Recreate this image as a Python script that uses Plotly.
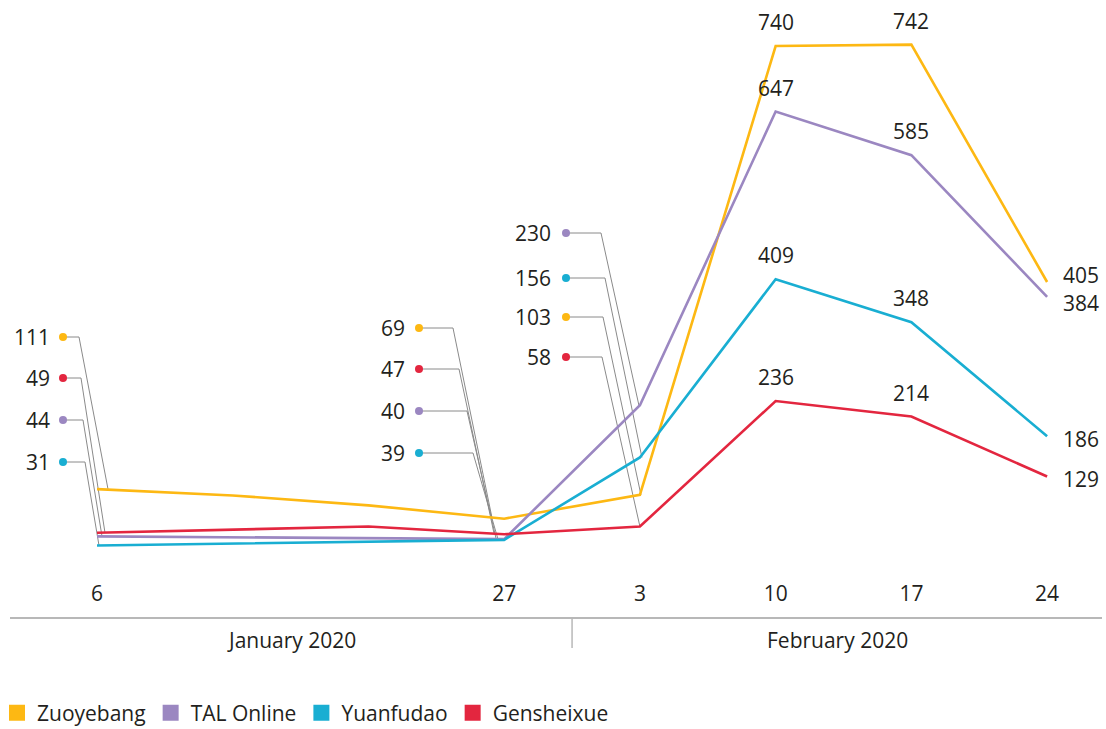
import plotly.graph_objects as go
import pandas as pd

# ---------------- data ----------------
dates = ["2020-01-06", "2020-01-13", "2020-01-20", "2020-01-27",
         "2020-02-03", "2020-02-10", "2020-02-17", "2020-02-24"]
series_names = ["Zuoyebang", "TAL Online", "Yuanfudao", "Gensheixue"]
zuoyebang = [111, 102, 88, 69, 103, 740, 742, 405]
tal_online = [44, 43, 42, 40, 230, 647, 585, 384]
yuanfudao = [31, 34, 36, 39, 156, 409, 348, 186]
gensheixue = [49, 54, 58, 47, 58, 236, 214, 129]

tick_dates = ["2020-01-06", "2020-01-27", "2020-02-03", "2020-02-10", "2020-02-17", "2020-02-24"]
tick_labels = ["6", "27", "3", "10", "17", "24"]
month_labels = ["January 2020", "February 2020"]
callout_dates = ["2020-01-06", "2020-01-27", "2020-02-03"]
above_dates = ["2020-02-10", "2020-02-17"]
end_date = "2020-02-24"

# ---------------- style ----------------
colors = ["#FDB813", "#9B87C1", "#19AED2", "#E3263F"]
TEXT = "#231F20"
GRAY = "#B8B8B8"
LEADER = "#8A8A8A"
FONT = "Open Sans"
FS = 21

W, H = 1106, 729
PL, PT, PW, PH = 10, 0, 1092, 617   # plot area in pixels
PX_PER_DAY = 19.39

series_values = [zuoyebang, tal_online, yuanfudao, gensheixue]
dts = pd.to_datetime(dates)
first, last = dts[0], dts[-1]
X0 = first - pd.Timedelta(days=87 / PX_PER_DAY)
X1 = X0 + pd.Timedelta(days=PW / PX_PER_DAY)
YMIN, YMAX = -70.5, 805.3


def px_to_date(px):
    return (X0 + (X1 - X0) * ((px - PL) / PW)).to_pydatetime()


def date_to_px(d):
    return PL + (pd.Timestamp(d) - X0) / (X1 - X0) * PW


def py_to_val(py):
    return YMAX - (py - PT) / PH * (YMAX - YMIN)


fig = go.Figure()

# callout layout (pixels): text right edge, dot x, row ys, horizontal ends, end offsets
callout_layout = {
    "2020-01-06": dict(tx=52, dot=63, rows=[337, 378, 420, 462], hx=[79, 81, 83, 85], off=[11, 8, 5, 2]),
    "2020-01-27": dict(tx=407, dot=419, rows=[328, 369, 411, 453], hx=[453, 459, 467, 473], off=[-12, -10, -8, -6]),
    "2020-02-03": dict(tx=553, dot=566, rows=[233, 278, 317, 357], hx=[601, 605, 603, 602], off=[-1, 2, 1, 0]),
}

annotations = []
for cd in callout_dates:
    i = dates.index(cd)
    order = sorted(range(4), key=lambda s: -series_values[s][i])
    lay = callout_layout[cd]
    for r, s in enumerate(order):
        v = series_values[s][i]
        yrow = py_to_val(lay["rows"][r])
        end_x = (pd.Timestamp(cd) + pd.Timedelta(days=lay["off"][r] / PX_PER_DAY)).to_pydatetime()
        fig.add_trace(go.Scatter(
            x=[px_to_date(lay["dot"]), px_to_date(lay["hx"][r]), end_x],
            y=[yrow, yrow, v], mode="lines",
            line=dict(color=LEADER, width=1), hoverinfo="skip", showlegend=False))
        fig.add_trace(go.Scatter(
            x=[px_to_date(lay["dot"])], y=[yrow], mode="markers",
            marker=dict(color=colors[s], size=8), hoverinfo="skip", showlegend=False))
        annotations.append(dict(
            x=px_to_date(lay["tx"]), y=yrow, xref="x", yref="y", text=str(v),
            showarrow=False, xanchor="right", yanchor="middle",
            font=dict(family=FONT, size=FS, color=TEXT)))

# series lines
for s, name in enumerate(series_names):
    fig.add_trace(go.Scatter(
        x=dates, y=series_values[s], mode="lines", name=name,
        line=dict(color=colors[s], width=2.6), showlegend=False, hoverinfo="skip"))

# value labels above (Feb 10, Feb 17)
for ad in above_dates:
    i = dates.index(ad)
    for s in range(4):
        annotations.append(dict(
            x=ad, y=series_values[s][i], xref="x", yref="y", text=str(series_values[s][i]),
            showarrow=False, xanchor="center", yanchor="bottom", yshift=8,
            font=dict(family=FONT, size=FS, color=TEXT)))

# end labels (Feb 24)
end_yshift = [7, -6, -3, -3]
i = dates.index(end_date)
for s in range(4):
    annotations.append(dict(
        x=end_date, y=series_values[s][i], xref="x", yref="y", text=str(series_values[s][i]),
        showarrow=False, xanchor="left", yanchor="middle", xshift=14, yshift=end_yshift[s],
        font=dict(family=FONT, size=FS, color=TEXT)))

# legend entries (squares)
for s, name in enumerate(series_names):
    fig.add_trace(go.Scatter(
        x=[None], y=[None], mode="markers", name=name,
        marker=dict(color=colors[s], symbol="square", size=18)))

# month group labels and divider
divider = pd.Timestamp(dates[3]) + (pd.Timestamp(dates[4]) - pd.Timestamp(dates[3])) / 2
div_px = date_to_px(divider)
centers = [(PL + div_px) / 2, (div_px + PL + PW) / 2]
for lbl, cx in zip(month_labels, centers):
    annotations.append(dict(
        x=(cx - PL) / PW, y=(PH - 640) / PH, xref="paper", yref="paper", text=lbl,
        showarrow=False, xanchor="center", yanchor="middle",
        font=dict(family=FONT, size=FS, color=TEXT)))

shapes = [dict(type="line", xref="x", yref="paper", x0=divider.to_pydatetime(), x1=divider.to_pydatetime(),
               y0=0, y1=-(648 - 617) / PH, line=dict(color=GRAY, width=1.5))]

fig.update_layout(
    width=W, height=H,
    margin=dict(l=PL, r=W - PL - PW, t=PT, b=H - PT - PH, autoexpand=False),
    paper_bgcolor="white", plot_bgcolor="white",
    font=dict(family=FONT, size=FS, color=TEXT),
    annotations=annotations, shapes=shapes,
    xaxis=dict(type="date", range=[X0.to_pydatetime(), X1.to_pydatetime()],
               tickvals=tick_dates, ticktext=tick_labels, ticks="",
               ticklabelposition="inside", ticklabelstandoff=13,
               showgrid=False, zeroline=False, automargin=False,
               showline=True, linecolor=GRAY, linewidth=1.5,
               tickfont=dict(family=FONT, size=FS, color=TEXT), fixedrange=True),
    yaxis=dict(range=[YMIN, YMAX], visible=False, showgrid=False, zeroline=False,
               automargin=False, fixedrange=True),
    legend=dict(orientation="h", x=-(PL + 3) / PW, xanchor="left",
                y=(PH - 713) / PH, yanchor="middle",
                font=dict(family=FONT, size=FS, color=TEXT),
                itemwidth=30, traceorder="normal", bgcolor="rgba(0,0,0,0)"),
    showlegend=True,
)

fig.write_html("out.html")
